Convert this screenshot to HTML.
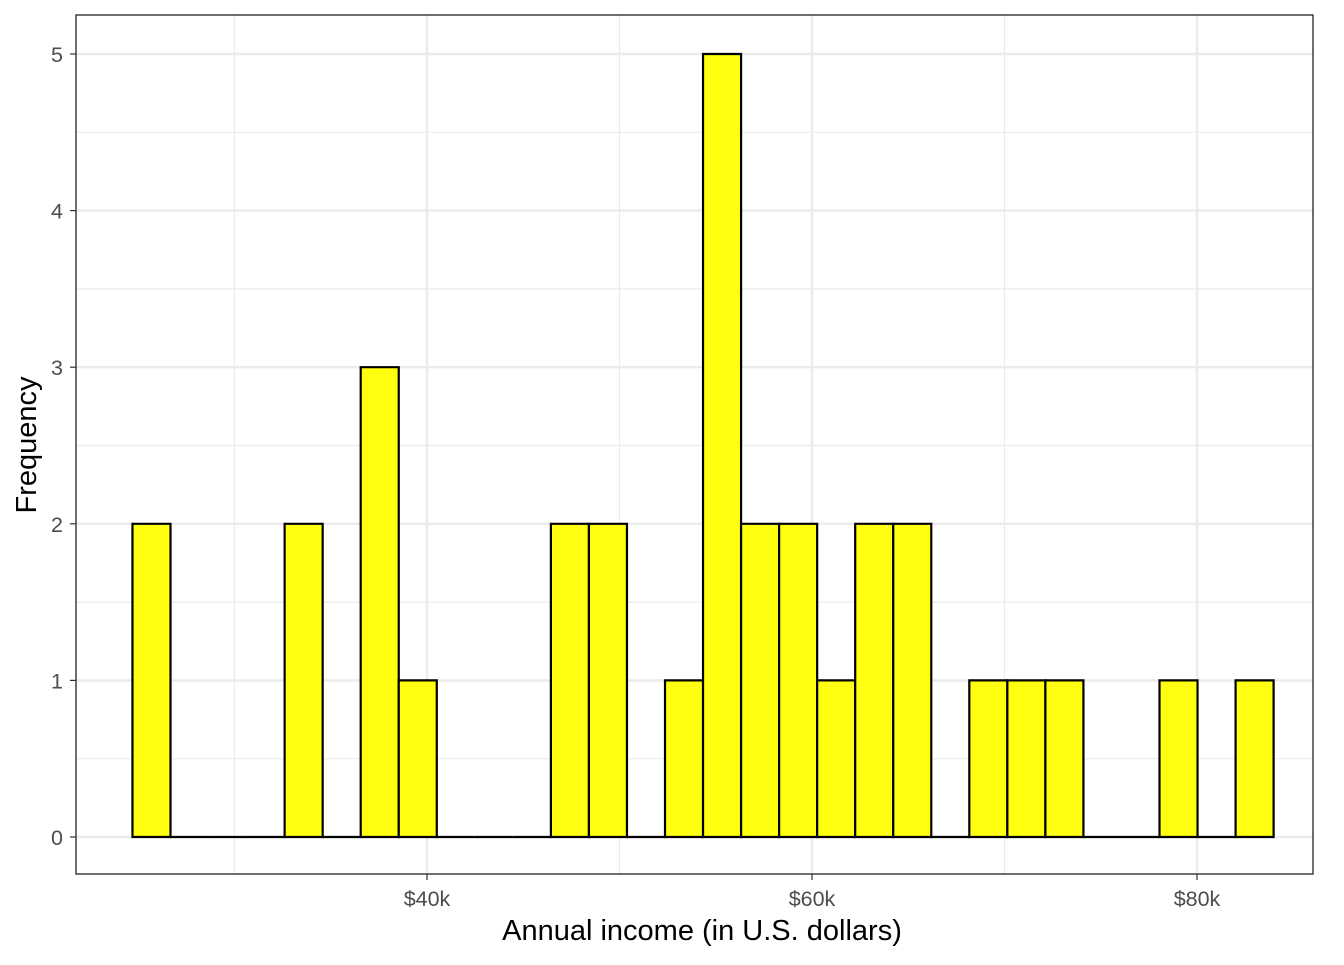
<!DOCTYPE html>
<html><head><meta charset="utf-8"><style>
body{margin:0;background:#fff;}
svg text{font-family:"Liberation Sans",Arial,sans-serif;}
</style></head><body>
<svg id="chart" width="1344" height="960" xmlns="http://www.w3.org/2000/svg">
<rect width="1344" height="960" fill="#fff"/>
<g id="grid"></g>
<g id="bars"></g>
<rect x="76" y="15" width="1237" height="859" fill="none" stroke="#222" stroke-width="1.3"/>
<g id="axes"></g>
<text x="702" y="940" font-size="29" text-anchor="middle" fill="#000">Annual income (in U.S. dollars)</text>
<text transform="translate(36,445) rotate(-90)" font-size="29" text-anchor="middle" fill="#000">Frequency</text>
</svg>
<script>
const counts=[2,0,0,0,2,0,3,1,0,0,0,2,2,0,1,5,2,2,1,2,2,0,1,1,1,0,0,1,0,1];
const binStart=[24.7];
const binWidth=[1.976];
const xTicks=[40,60,80];
const xTickLabels=["$40k","$60k","$80k"];
const xMinor=[30,50,70];
const yTicks=[0,1,2,3,4,5];
const yMinor=[0.5,1.5,2.5,3.5,4.5];
const NS="http://www.w3.org/2000/svg";
const X=v=>427+(v-40)*19.25;
const Y=v=>837-v*156.6;
function mk(tag,attrs,parent){const e=document.createElementNS(NS,tag);for(const k in attrs)e.setAttribute(k,attrs[k]);document.getElementById(parent).appendChild(e);return e;}
xMinor.forEach(v=>{const e=mk('line',{x1:X(v),x2:X(v),y1:15,y2:874,stroke:'#ebebeb','stroke-width':1.2},'grid');

});
yMinor.forEach(v=>{const e=mk('line',{x1:76,x2:1313,y1:Y(v),y2:Y(v),stroke:'#ebebeb','stroke-width':1.2},'grid');

});
xTicks.forEach((v,i)=>{const e=mk('line',{x1:X(v),x2:X(v),y1:15,y2:874,stroke:'#ebebeb','stroke-width':2.4},'grid');


const t=mk('line',{x1:X(v),x2:X(v),y1:874,y2:880,stroke:'#333','stroke-width':1.2},'axes');


const l=mk('text',{x:X(v),y:906,'font-size':21.5,'text-anchor':'middle',fill:'#4d4d4d'},'axes');l.textContent=xTickLabels[i];

});
yTicks.forEach(v=>{const e=mk('line',{x1:76,x2:1313,y1:Y(v),y2:Y(v),stroke:'#ebebeb','stroke-width':2.4},'grid');


const t=mk('line',{x1:70,x2:76,y1:Y(v),y2:Y(v),stroke:'#333','stroke-width':1.2},'axes');


const l=mk('text',{x:63,y:Y(v)+8,'font-size':21.5,'text-anchor':'end',fill:'#4d4d4d'},'axes');l.textContent=v;

});
counts.forEach((c,i)=>{const x0=X(binStart[0]+i*binWidth[0]),x1=X(binStart[0]+(i+1)*binWidth[0]);
const y0=Y(0),y1=Y(c);
const r=mk('path',{d:`M${x0},${y0}L${x0},${y1}L${x1},${y1}L${x1},${y0}Z`,fill:'#ffff0f',stroke:'#000','stroke-width':2.2},'bars');

});
</script>
</body></html>
